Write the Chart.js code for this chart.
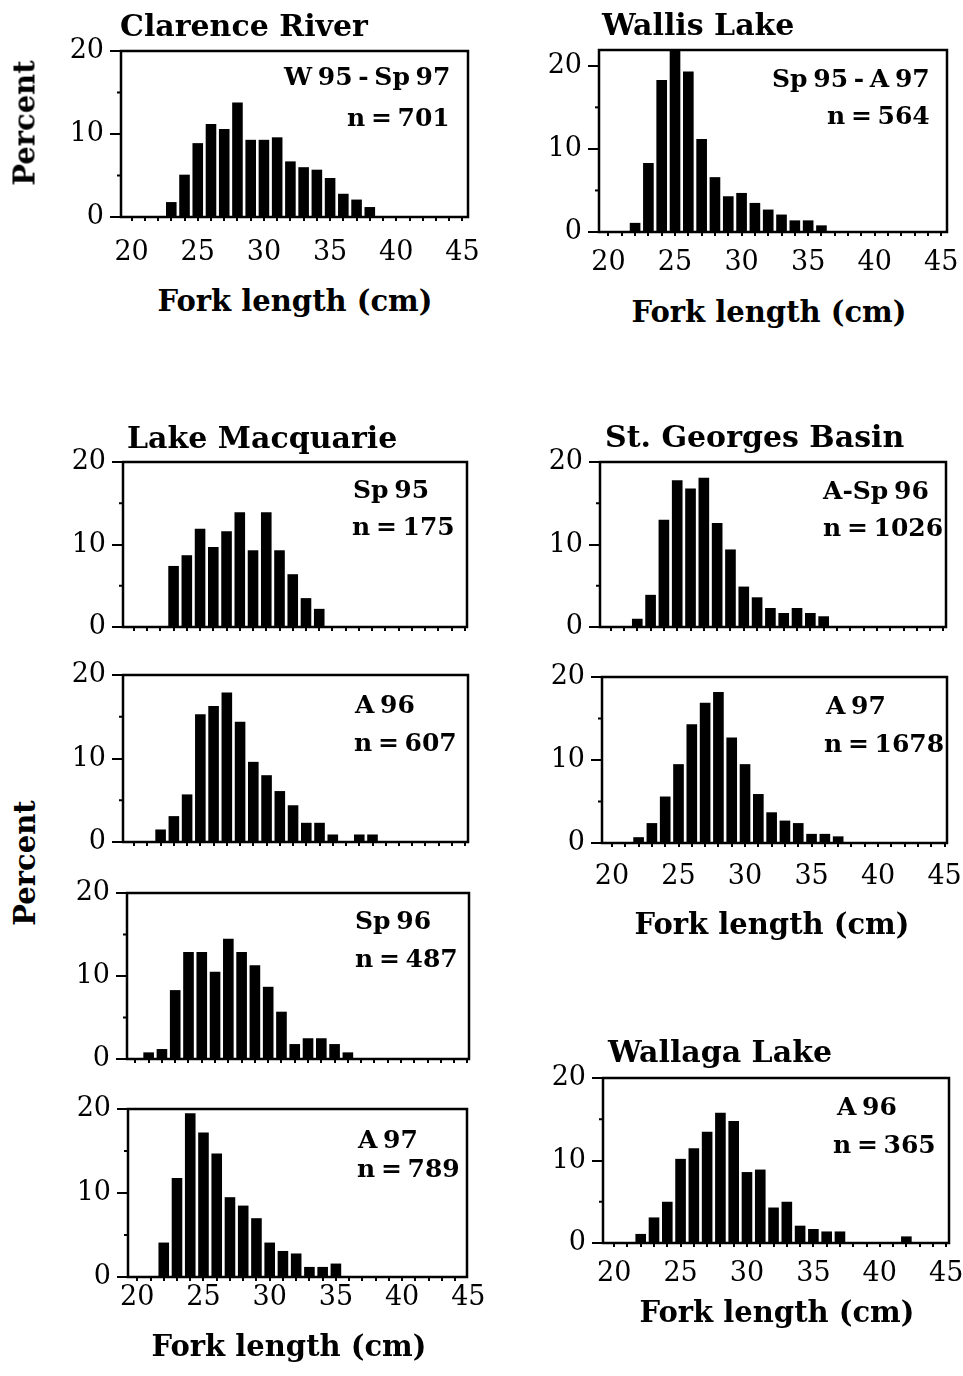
<!DOCTYPE html>
<html>
<head>
<meta charset="utf-8">
<script src="https://cdn.jsdelivr.net/npm/chart.js@4.4.1/dist/chart.umd.min.js"></script>
<style>
  body { margin: 0; background: #fff; }
  #page { position: relative; width: 963px; height: 1376px; overflow: hidden; background: #fff; }
  canvas { position: absolute; }
  .txt { position: absolute; white-space: nowrap; line-height: 1; font-family: "DejaVu Serif", serif; font-weight: bold; color: #000; }
  .note { word-spacing: -3px; }
</style>
</head>
<body>
<div id="page"></div>
<script>
// fork length bins (cm) and percent of fish in each bin
var clarenceLength = [23, 24, 25, 26, 27, 28, 29, 30, 31, 32, 33, 34, 35, 36, 37, 38];
var clarencePercent = [1.8, 5.1, 8.9, 11.2, 10.6, 13.8, 9.3, 9.3, 9.6, 6.7, 6.0, 5.7, 4.7, 2.8, 2.1, 1.2];

var wallisLength = [22, 23, 24, 25, 26, 27, 28, 29, 30, 31, 32, 33, 34, 35, 36];
var wallisPercent = [1.1, 8.3, 18.3, 22.0, 19.3, 11.2, 6.6, 4.3, 4.7, 3.5, 2.7, 2.1, 1.4, 1.4, 0.8];

var macSp95Length = [23, 24, 25, 26, 27, 28, 29, 30, 31, 32, 33, 34];
var macSp95Percent = [7.4, 8.7, 11.9, 9.7, 11.6, 13.9, 9.3, 13.9, 9.3, 6.4, 3.5, 2.2];

var georgesASp96Length = [22, 23, 24, 25, 26, 27, 28, 29, 30, 31, 32, 33, 34, 35, 36];
var georgesASp96Percent = [1.0, 3.9, 13.0, 17.8, 16.8, 18.1, 12.6, 9.4, 4.9, 3.6, 2.3, 1.7, 2.3, 1.7, 1.3];

var macA96Length = [22, 23, 24, 25, 26, 27, 28, 29, 30, 31, 32, 33, 34, 35, 37, 38];
var macA96Percent = [1.5, 3.1, 5.7, 15.3, 16.3, 17.9, 14.4, 9.6, 8.0, 6.1, 4.4, 2.3, 2.3, 0.9, 0.9, 0.9];

var georgesA97Length = [22, 23, 24, 25, 26, 27, 28, 29, 30, 31, 32, 33, 34, 35, 36, 37];
var georgesA97Percent = [0.7, 2.4, 5.6, 9.5, 14.3, 16.9, 18.2, 12.7, 9.5, 5.9, 3.7, 2.7, 2.4, 1.1, 1.1, 0.8];

var macSp96Length = [21, 22, 23, 24, 25, 26, 27, 28, 29, 30, 31, 32, 33, 34, 35, 36];
var macSp96Percent = [0.8, 1.2, 8.3, 12.9, 12.9, 10.5, 14.5, 12.9, 11.3, 8.7, 5.7, 1.8, 2.5, 2.5, 1.8, 0.8];

var macA97Length = [22, 23, 24, 25, 26, 27, 28, 29, 30, 31, 32, 33, 34, 35];
var macA97Percent = [4.1, 11.8, 19.5, 17.2, 14.7, 9.5, 8.5, 7.0, 4.1, 3.1, 2.8, 1.2, 1.2, 1.6];

var wallagaLength = [22, 23, 24, 25, 26, 27, 28, 29, 30, 31, 32, 33, 34, 35, 36, 37, 42];
var wallagaPercent = [1.1, 3.1, 5.0, 10.2, 11.5, 13.5, 15.8, 14.8, 8.6, 8.9, 4.3, 5.0, 2.1, 1.7, 1.4, 1.4, 0.8];

// axis ticks
var binEdges = [19.5, 20.5, 21.5, 22.5, 23.5, 24.5, 25.5, 26.5, 27.5, 28.5, 29.5, 30.5, 31.5,
                32.5, 33.5, 34.5, 35.5, 36.5, 37.5, 38.5, 39.5, 40.5, 41.5, 42.5, 43.5, 44.5, 45.5];
var lengthTicks = [20, 25, 30, 35, 40, 45];
var percentTicks = [0, 10, 20];
var percentMinorTicks = [5, 15];

// text
var siteTitles = ["Clarence River", "Wallis Lake", "Lake Macquarie", "St. Georges Basin", "Wallaga Lake"];
var xTitle = "Fork length (cm)";
var yTitle = "Percent";

var page = document.getElementById("page");
Chart.defaults.font.family = "'DejaVu Serif', serif";
Chart.defaults.color = "#000";

// frame round the plot area + short minor ticks on the percent axis
var framePlugin = {
  id: "frame",
  afterDraw: function (chart) {
    var a = chart.chartArea, ctx = chart.ctx, y = chart.scales.y;
    ctx.save();
    ctx.strokeStyle = "#000";
    ctx.lineWidth = 2.5;
    ctx.strokeRect(a.left, a.top, a.right - a.left, a.bottom - a.top);
    ctx.lineWidth = 2;
    percentMinorTicks.forEach(function (v) {
      var py = y.getPixelForValue(v);
      ctx.beginPath();
      ctx.moveTo(a.left - 4, py);
      ctx.lineTo(a.left, py);
      ctx.stroke();
    });
    ctx.restore();
  }
};

function makePanel(len, pct, box, yMax, xMin, xMax, labelPad) {
  var L = 80, T = 30, R = 30, B = 60;
  var cv = document.createElement("canvas");
  cv.width = box[2] - box[0] + L + R;
  cv.height = box[3] - box[1] + T + B;
  cv.style.left = (box[0] - L) + "px";
  cv.style.top = (box[1] - T) + "px";
  page.appendChild(cv);
  var showLabels = labelPad !== null;

  var points = len.map(function (v, i) {
    return { x: v, y: pct[i] };
  });

  return new Chart(cv, {
    type: "bar",
    data: {
      datasets: [{
        data: points, backgroundColor: "#000", borderWidth: 0,
        categoryPercentage: 1.0, barPercentage: 0.8
      }]
    },
    plugins: [framePlugin],
    options: {
      responsive: false, animation: false, events: [],
      layout: { padding: { left: 0, top: T, right: R, bottom: 0 }, autoPadding: false },
      plugins: { legend: { display: false }, tooltip: { enabled: false } },
      scales: {
        x: {
          type: "linear", position: "bottom", min: xMin, max: xMax, offset: false, weight: 0,
          afterBuildTicks: function (s) {
            s.ticks = binEdges.filter(function (v) { return v >= xMin && v <= xMax; })
              .map(function (v) { return { value: v }; });
          },
          afterFit: function (s) { s.height = showLabels ? 6 : B; },
          grid: { drawOnChartArea: false, drawTicks: true, tickLength: 4, lineWidth: 2, color: "#000" },
          border: { display: false },
          ticks: { display: false }
        },
        xl: {
          axis: "x", type: "linear", position: "bottom", display: showLabels,
          min: xMin, max: xMax, offset: false, weight: 1,
          afterBuildTicks: function (s) {
            s.ticks = lengthTicks.map(function (v) { return { value: v }; });
          },
          afterFit: function (s) { s.height = showLabels ? B - 6 : 0; },
          grid: { display: false, drawTicks: false },
          border: { display: false },
          ticks: {
            autoSkip: false, maxRotation: 0, padding: showLabels ? labelPad : 0,
            font: { size: 27, lineHeight: 1 }
          }
        },
        y: {
          min: 0, max: yMax,
          afterBuildTicks: function (s) {
            s.ticks = percentTicks.map(function (v) { return { value: v }; });
          },
          afterFit: function (s) { s.width = L; },
          grid: { drawOnChartArea: false, drawTicks: true, tickLength: 11, lineWidth: 2, color: "#000" },
          border: { display: false },
          ticks: { padding: 6, font: { size: 27, lineHeight: 1 } }
        }
      }
    }
  });
}

function putText(str, x, base, size, align, cls) {
  var d = document.createElement("div");
  d.className = "txt" + (cls ? " " + cls : "");
  d.textContent = str;
  d.style.fontSize = size + "px";
  page.appendChild(d);
  var w = d.offsetWidth;
  var left = align === "right" ? x - w : (align === "center" ? x - w / 2 : x);
  d.style.left = left + "px";
  d.style.top = (base - 0.846 * size) + "px";
}

function putVertical(str, cx, cy, size) {
  var d = document.createElement("div");
  d.className = "txt";
  d.textContent = str;
  d.style.fontSize = size + "px";
  d.style.left = cx + "px";
  d.style.top = cy + "px";
  d.style.transform = "translate(-50%,-50%) rotate(-90deg)";
  page.appendChild(d);
}

// left column
makePanel(clarenceLength, clarencePercent, [121, 51, 468, 217], 20, 19.2, 45.42, 16);
makePanel(macSp95Length, macSp95Percent, [123, 462, 467, 627], 20, 19.18, 45.16, null);
makePanel(macA96Length, macA96Percent, [123, 675, 468, 842], 20, 19.16, 45.21, null);
makePanel(macSp96Length, macSp96Percent, [127, 893, 469, 1059], 20, 19.37, 45.12, null);
makePanel(macA97Length, macA97Percent, [128, 1109, 467, 1277], 20, 19.3, 44.9, 1);
// right column
makePanel(wallisLength, wallisPercent, [599, 50, 947, 232], 21.9, 19.29, 45.43, 11);
makePanel(georgesASp96Length, georgesASp96Percent, [600, 462, 946, 627], 20, 19.2, 45.19, null);
makePanel(georgesA97Length, georgesA97Percent, [602, 677, 947, 843], 20, 19.25, 45.18, 14);
makePanel(wallagaLength, wallagaPercent, [603, 1078, 949, 1243], 20, 19.16, 45.21, 11);

// site names
putText(siteTitles[0], 120, 36, 30, "left");
putText(siteTitles[1], 602, 35, 30, "left");
putText(siteTitles[2], 127, 448, 30, "left");
putText(siteTitles[3], 605, 447, 30, "left");
putText(siteTitles[4], 608, 1062, 30, "left");

// sampling period and sample size
putText("W 95 - Sp 97", 450, 85, 25, "right", "note");
putText("n = 701", 450, 126, 25, "right", "note");
putText("Sp 95 - A 97", 930, 87, 25, "right", "note");
putText("n = 564", 930, 124, 25, "right", "note");
putText("Sp 95", 353, 498, 25, "left", "note");
putText("n = 175", 352, 535, 25, "left", "note");
putText("A-Sp 96", 823, 499, 25, "left", "note");
putText("n = 1026", 823, 536, 25, "left", "note");
putText("A 96", 355, 713, 25, "left", "note");
putText("n = 607", 354, 751, 25, "left", "note");
putText("A 97", 826, 714, 25, "left", "note");
putText("n = 1678", 824, 752, 25, "left", "note");
putText("Sp 96", 355, 929, 25, "left", "note");
putText("n = 487", 355, 967, 25, "left", "note");
putText("A 97", 358, 1148, 25, "left", "note");
putText("n = 789", 357, 1177, 25, "left", "note");
putText("A 96", 837, 1115, 25, "left", "note");
putText("n = 365", 833, 1153, 25, "left", "note");

// axis titles
putText(xTitle, 295, 312, 29, "center");
putText(xTitle, 769, 323, 29, "center");
putText(xTitle, 772, 935, 29, "center");
putText(xTitle, 289, 1357, 29, "center");
putText(xTitle, 777, 1323, 29, "center");
putVertical(yTitle, 25, 123, 29);
putVertical(yTitle, 25, 863, 29);
</script>
</body>
</html>
